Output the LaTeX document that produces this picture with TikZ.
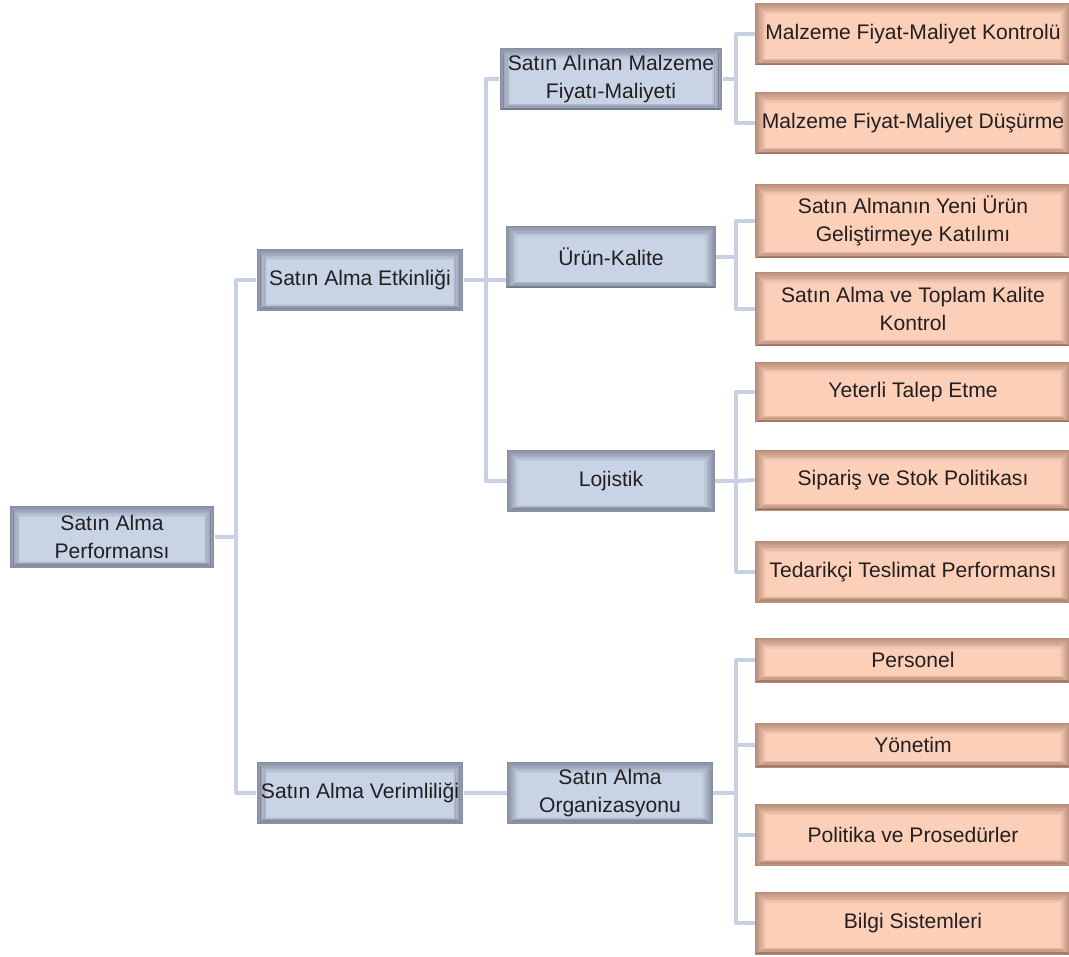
\documentclass[tikz,border=0pt]{standalone}
\usepackage{fontspec}
\setmainfont{Liberation Sans}
\definecolor{bluebox}{RGB}{200,212,230}
\definecolor{blueedge}{RGB}{95,100,118}
\definecolor{salmonbox}{RGB}{252,208,184}
\definecolor{salmonedge}{RGB}{140,98,82}
\definecolor{linkc}{RGB}{200,208,228}
\definecolor{textc}{RGB}{35,31,32}
\tikzset{
  edgeshade/.style 2 args={fill=#1, path picture={
    \foreach \i [evaluate=\i as \op using 0.62-0.075*\i] in {0,...,7}
      \draw[#2, line width=0.8pt, opacity=\op]
        ([shift={(0.75*\i pt+0.4pt,-0.8*\i pt-0.4pt)}]path picture bounding box.north west) rectangle
        ([shift={(-0.75*\i pt-0.4pt,0.45*\i pt+0.4pt)}]path picture bounding box.south east);
  }},
  box/.style={inner sep=0pt, align=center, text=textc, font=\fontsize{12}{16.4}\selectfont},
  bluebx/.style={box, edgeshade={bluebox}{blueedge}, minimum height=1.24cm},
  salmonbx/.style={box, edgeshade={salmonbox}{salmonedge}, minimum width=6.32cm, minimum height=1.26cm},
  link/.style={draw=linkc, line width=2.3pt, line join=round},
}
\begin{document}
\begin{tikzpicture}[x=0.02cm, y=-0.02cm]
\useasboundingbox (0,0) rectangle (1069,957);
% blue boxes
\node[bluebx, minimum width=4.1cm] (root) at (112,537) {Satın Alma\\Performansı};
\node[bluebx, minimum width=4.14cm] (etkinlik) at (360,280) {Satın Alma Etkinliği};
\node[bluebx, minimum width=4.14cm] (verim) at (360,793) {Satın Alma Verimliliği};
\node[bluebx, minimum width=4.46cm, minimum height=1.26cm] (malzeme) at (611,79) {Satın Alınan Malzeme\\Fiyatı-Maliyeti};
\node[bluebx, minimum width=4.2cm, minimum height=1.26cm] (urun) at (611,257) {Ürün-Kalite};
\node[bluebx, minimum width=4.16cm] (lojistik) at (611,481) {Lojistik};
\node[bluebx, minimum width=4.12cm] (organizasyon) at (610,793) {Satın Alma\\Organizasyonu};
% salmon boxes
\node[salmonbx] (kontrol) at (913,34) {Malzeme Fiyat-Maliyet Kontrolü};
\node[salmonbx] (dusurme) at (913,123) {Malzeme Fiyat-Maliyet Düşürme};
\node[salmonbx, minimum height=1.5cm] (yeniurun) at (913,221) {Satın Almanın Yeni Ürün\\Geliştirmeye Katılımı};
\node[salmonbx, minimum height=1.5cm] (kalite) at (913,309) {Satın Alma ve Toplam Kalite\\Kontrol};
\node[salmonbx, minimum height=1.22cm] (talep) at (913,392) {Yeterli Talep Etme};
\node[salmonbx, minimum height=1.22cm] (siparis) at (913,480) {Sipariş ve Stok Politikası};
\node[salmonbx, minimum height=1.24cm] (tedarikci) at (913,572) {Tedarikçi Teslimat Performansı};
\node[salmonbx, minimum height=0.9cm] (personel) at (913,660) {Personel};
\node[salmonbx, minimum height=0.9cm] (yonetim) at (913,745) {Yönetim};
\node[salmonbx, minimum height=1.24cm] (politika) at (913,835) {Politika ve Prosedürler};
\node[salmonbx, minimum height=1.26cm] (bilgi) at (913,923) {Bilgi Sistemleri};
% bus points
\coordinate (b1) at (236,537);
\coordinate (b2) at (486,280);
\coordinate (b3a) at (736,79);
\coordinate (b3b) at (736,257);
\coordinate (b3c) at (736,481);
\coordinate (b3d) at (736,793);
% connectors
\draw[link] (root.east) -- (b1);
\draw[link] (etkinlik.west) -| (b1);
\draw[link] (verim.west) -| (b1);
\draw[link] (etkinlik.east) -- (urun.west |- etkinlik.east);
\draw[link] (malzeme.west) -| (b2);
\draw[link] (lojistik.west) -| (b2);
\draw[link] (verim.east) -- (organizasyon.west);
\draw[link] (malzeme.east) -- (b3a);
\draw[link] (kontrol.west) -| (b3a);
\draw[link] (dusurme.west) -| (b3a);
\draw[link] (urun.east) -- (b3b);
\draw[link] (yeniurun.west) -| (b3b);
\draw[link] (kalite.west) -| (b3b);
\draw[link] (lojistik.east) -- (b3c);
\draw[link] (talep.west) -| (b3c);
\draw[link] (siparis.west) -- (b3c);
\draw[link] (tedarikci.west) -| (b3c);
\draw[link] (organizasyon.east) -- (b3d);
\draw[link] (personel.west) -| (b3d);
\draw[link] (yonetim.west) -| (b3d);
\draw[link] (politika.west) -| (b3d);
\draw[link] (bilgi.west) -| (b3d);
\end{tikzpicture}
\end{document}
